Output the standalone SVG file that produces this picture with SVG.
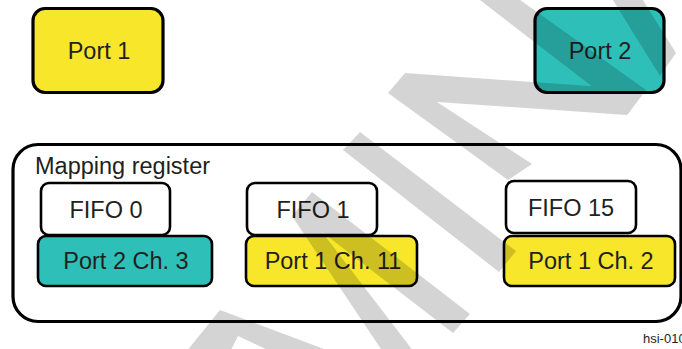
<svg xmlns="http://www.w3.org/2000/svg" width="682" height="349" viewBox="0 0 682 349">
<style>
.t{font-family:"Liberation Sans",Arial,sans-serif;font-size:23.5px;fill:#231f20;text-anchor:middle}
.big{stroke:#000;stroke-width:3.2}
.sm{stroke:#000;stroke-width:2.6}
.y{fill:#f7e629}
.c{fill:#2ebfb8}
.w{fill:#fff}
</style>
<rect width="682" height="349" fill="#fff"/>
<g id="port1"><rect class="big y" x="33" y="8.5" width="130" height="84" rx="12"/><text class="t" x="99" y="59">Port 1</text></g>
<g id="port2"><rect class="big c" x="535" y="8.5" width="129" height="84" rx="12"/><text class="t" x="600" y="59">Port 2</text></g>
<g id="mapping-register"><rect class="big" fill="none" x="13" y="144.5" width="668" height="177" rx="25"/><text class="t" x="35" y="174" style="text-anchor:start">Mapping register</text></g>
<g id="fifo0"><rect class="sm w" x="41" y="183" width="129" height="52" rx="8"/><text class="t" x="106" y="218">FIFO 0</text></g>
<g id="p2ch3"><rect class="sm c" x="38" y="236" width="174" height="50" rx="8"/><text class="t" x="126" y="269">Port 2 Ch. 3</text></g>
<g id="fifo1"><rect class="sm w" x="247" y="183" width="130" height="52" rx="8"/><text class="t" x="313" y="218">FIFO 1</text></g>
<g id="p1ch11"><rect class="sm y" x="246" y="236" width="171" height="50" rx="8"/><text class="t" x="333" y="269">Port 1 Ch. 11</text></g>
<g id="fifo15"><rect class="sm w" x="506" y="181" width="130" height="52" rx="8"/><text class="t" x="571" y="216">FIFO 15</text></g>
<g id="p1ch2"><rect class="sm y" x="504" y="236" width="171" height="50" rx="8"/><text class="t" x="591" y="269">Port 1 Ch. 2</text></g>
<g id="connectors"></g>
<text x="643" y="343" style="font-family:'Liberation Sans',Arial,sans-serif;font-size:13px;fill:#231f20">hsi-010</text>
<path id="watermark" fill="#000" fill-opacity="0.17" d="M611,-3 L641,-3 L676,53 L660,76 Z M476,-3 L516,-3 L646,90 L628,114 Z M405,73 L646,90 L627,115 L437,102 L532,164 L508,180 L388,93 Z M360,132 L516,251 L499,272 L343,150 Z M312,192 L470,314 L453,333 L322,232 L414,352 L383,352 L292,216 Z M220,310 L332,352 L272,352 L238,336 L230,352 L186,352 Z"/>
</svg>
